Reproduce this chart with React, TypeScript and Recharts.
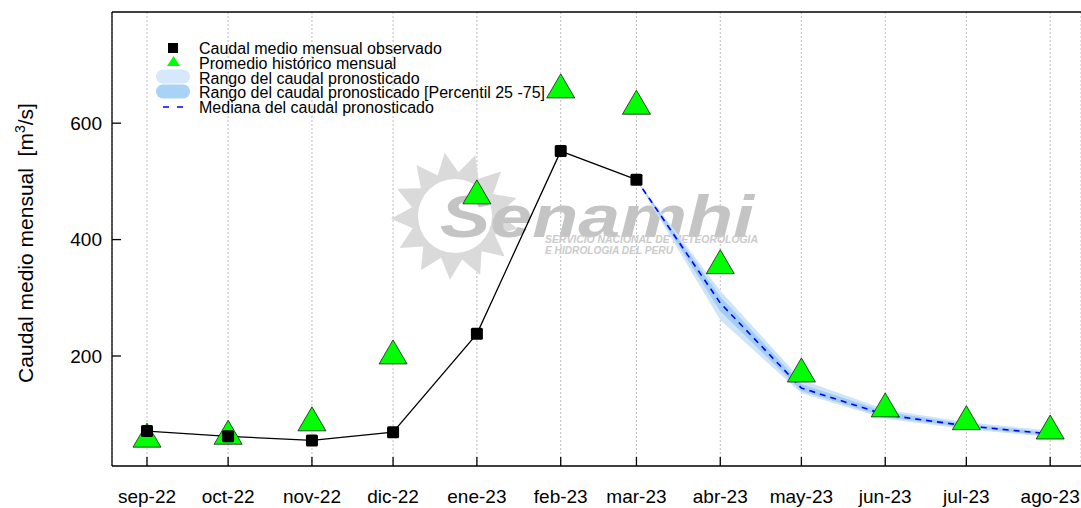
import { ComposedChart, Line, Area, XAxis, YAxis, CartesianGrid, ReferenceLine, Customized } from "recharts";

const MONTHS = ["sep-22", "oct-22", "nov-22", "dic-22", "ene-23", "feb-23", "mar-23", "abr-23", "may-23", "jun-23", "jul-23", "ago-23"];
// days since mid-September 2022 (months are not equally long)
const DAYS = [0, 30, 61, 91, 122, 153, 181, 212, 242, 273, 303, 334];
const OBSERVED = [71, 62, 55, 69, 238, 552, 503, null, null, null, null, null];
const HISTORIC = [64, 69, 92, 207, 482, 664, 636, 362, 176, 116, 94, 78];
const MEDIAN = [null, null, null, null, null, null, 503, 291, 145, 99, 80, 66];
const RANGE_MIN = [null, null, null, null, null, null, 503, 262, 136, 92, 74, 61];
const RANGE_MAX = [null, null, null, null, null, null, 503, 312, 159, 108, 86, 72];
const P25 = [null, null, null, null, null, null, 503, 277, 140, 95, 77, 63];
const P75 = [null, null, null, null, null, null, 503, 302, 152, 104, 83, 69];
const Y_TICKS = [200, 400, 600];

const data = MONTHS.map((m, i) => ({
  d: DAYS[i],
  month: m,
  obs: OBSERVED[i],
  hist: HISTORIC[i],
  med: MEDIAN[i],
  range: RANGE_MIN[i] == null ? null : [RANGE_MIN[i], RANGE_MAX[i]],
  pct: P25[i] == null ? null : [P25[i], P75[i]],
}));

const FONT = "'Liberation Sans', Arial, sans-serif";
const AXIS_X = 112;
const AXIS_Y = 466;

const XTick = (props: any) => {
  const { x, payload } = props;
  const i = DAYS.indexOf(payload.value);
  return (
    <g>
      <line x1={x} x2={x} y1={AXIS_Y} y2={AXIS_Y - 9} stroke="#000" strokeWidth={1.3} />
      <text x={x} y={503} textAnchor="middle" fontFamily={FONT} fontSize={19} fill="#000">
        {MONTHS[i]}
      </text>
    </g>
  );
};

const YTick = (props: any) => {
  const { y, payload } = props;
  return (
    <g>
      <line x1={AXIS_X} x2={AXIS_X + 9} y1={y} y2={y} stroke="#000" strokeWidth={1.3} />
      <text x={102} y={y} dy="0.36em" textAnchor="end" fontFamily={FONT} fontSize={19} fill="#000">
        {payload.value}
      </text>
    </g>
  );
};

const Triangle = (props: any) => {
  const { cx, cy, index } = props;
  if (cx == null || cy == null) return <g key={`t${index}`} />;
  return (
    <polygon
      key={`t${index}`}
      points={`${cx},${cy - 12} ${cx - 14},${cy + 12} ${cx + 14},${cy + 12}`}
      fill="#00ff00"
      stroke="#1a1a1a"
      strokeWidth={0.8}
    />
  );
};

const Square = (props: any) => {
  const { cx, cy, index } = props;
  if (cx == null || cy == null) return <g key={`s${index}`} />;
  return <rect key={`s${index}`} x={cx - 6} y={cy - 6} width={12} height={12} rx={1.5} fill="#000" />;
};

const Watermark = () => {
  const cx = 455;
  const cy = 216;
  const pts: string[] = [];
  const n = 13;
  for (let k = 0; k < n * 2; k++) {
    const a = (Math.PI * k) / n + 0.2;
    const r = k % 2 === 0 ? 64 : 44;
    pts.push(`${cx + r * Math.cos(a)},${cy + r * Math.sin(a)}`);
  }
  return (
    <g>
      <polygon points={pts.join(" ")} fill="#dadada" />
      <circle cx={cx} cy={cy} r={37} fill="#fff" />
      <text x={440} y={237} fontFamily={FONT} fontWeight="bold" fontStyle="italic" fontSize={60} fill="#c4c4c4" textLength={314} lengthAdjust="spacingAndGlyphs">
        Senamhi
      </text>
      <text x={545} y={243} fontFamily={FONT} fontWeight="bold" fontStyle="italic" fontSize={10} fill="#cbcbcb" textLength={213} lengthAdjust="spacingAndGlyphs">
        SERVICIO NACIONAL DE METEOROLOGIA
      </text>
      <text x={545} y={254} fontFamily={FONT} fontWeight="bold" fontStyle="italic" fontSize={10} fill="#cbcbcb" textLength={128} lengthAdjust="spacingAndGlyphs">
        E HIDROLOGIA DEL PERU
      </text>
    </g>
  );
};

const LEGEND = [
  "Caudal medio mensual observado",
  "Promedio histórico mensual",
  "Rango del caudal pronosticado",
  "Rango del caudal pronosticado [Percentil 25 -75]",
  "Mediana del caudal pronosticado",
];

const LegendBox = () => {
  const x0 = 199;
  const y0 = 54.3;
  const dy = 14.6;
  return (
    <g fontFamily={FONT} fontSize={16} fill="#000">
      <rect x={168} y={43} width={10} height={10} fill="#000" />
      <polygon points="173.5,56 167,66 180,66" fill="#00ff00" />
      <rect x={156} y={69.5} width={34} height={14} rx={7} fill="#d6e8fb" />
      <rect x={156} y={84.5} width={34} height={14} rx={7} fill="#a9d2f7" />
      <line x1={163} x2={183} y1={107} y2={107} stroke="#0000ff" strokeWidth={1.5} strokeDasharray="6 8" />
      {LEGEND.map((t, i) => (
        <text key={t} x={x0} y={y0 + i * dy}>
          {t}
        </text>
      ))}
    </g>
  );
};

const YLabel = () => (
  <text transform="translate(33,243) rotate(-90)" textAnchor="middle" fontFamily={FONT} fontSize={21} fill="#000">
    Caudal medio mensual{"\u00a0\u00a0"}[m
    <tspan dy={-8} fontSize={14}>3</tspan>
    <tspan dy={8}>/s]</tspan>
  </text>
);

export default function App() {
  return (
    <div style={{ position: "absolute", left: 0, top: 0, width: 1081, height: 508, background: "#fff" }}>
      <ComposedChart width={1081} height={508} data={data} margin={{ top: 12, right: 0, bottom: 0, left: 0 }}>
        <Customized component={Watermark} />
        <CartesianGrid horizontal={false} stroke="#bdbdbd" strokeDasharray="2 2" />
        <XAxis
          type="number"
          dataKey="d"
          domain={[-12.94, 345.4]}
          ticks={DAYS}
          allowDataOverflow
          tick={XTick}
          tickLine={false}
          axisLine={{ stroke: "#000", strokeWidth: 1.3 }}
          height={42}
        />
        <YAxis
          type="number"
          domain={[11, 791]}
          ticks={Y_TICKS}
          allowDataOverflow
          tick={YTick}
          tickLine={false}
          axisLine={{ stroke: "#000", strokeWidth: 1.3 }}
          width={112}
        />
        <ReferenceLine y={791} stroke="#000" strokeWidth={1.5} />
        <Line dataKey="hist" stroke="none" dot={Triangle} activeDot={false} isAnimationActive={false} legendType="none" />
        <Line dataKey="obs" stroke="#000" strokeWidth={1.3} dot={Square} activeDot={false} isAnimationActive={false} />
        <Area dataKey="range" type="linear" stroke="none" fill="#cfe4f9" fillOpacity={1} isAnimationActive={false} />
        <Area dataKey="pct" type="linear" stroke="none" fill="#a2cdf4" fillOpacity={1} isAnimationActive={false} />
        <Line dataKey="med" stroke="#0000ff" strokeWidth={1.6} strokeDasharray="6 5" dot={false} activeDot={false} isAnimationActive={false} />
        <Customized component={LegendBox} />
        <Customized component={YLabel} />
      </ComposedChart>
    </div>
  );
}
